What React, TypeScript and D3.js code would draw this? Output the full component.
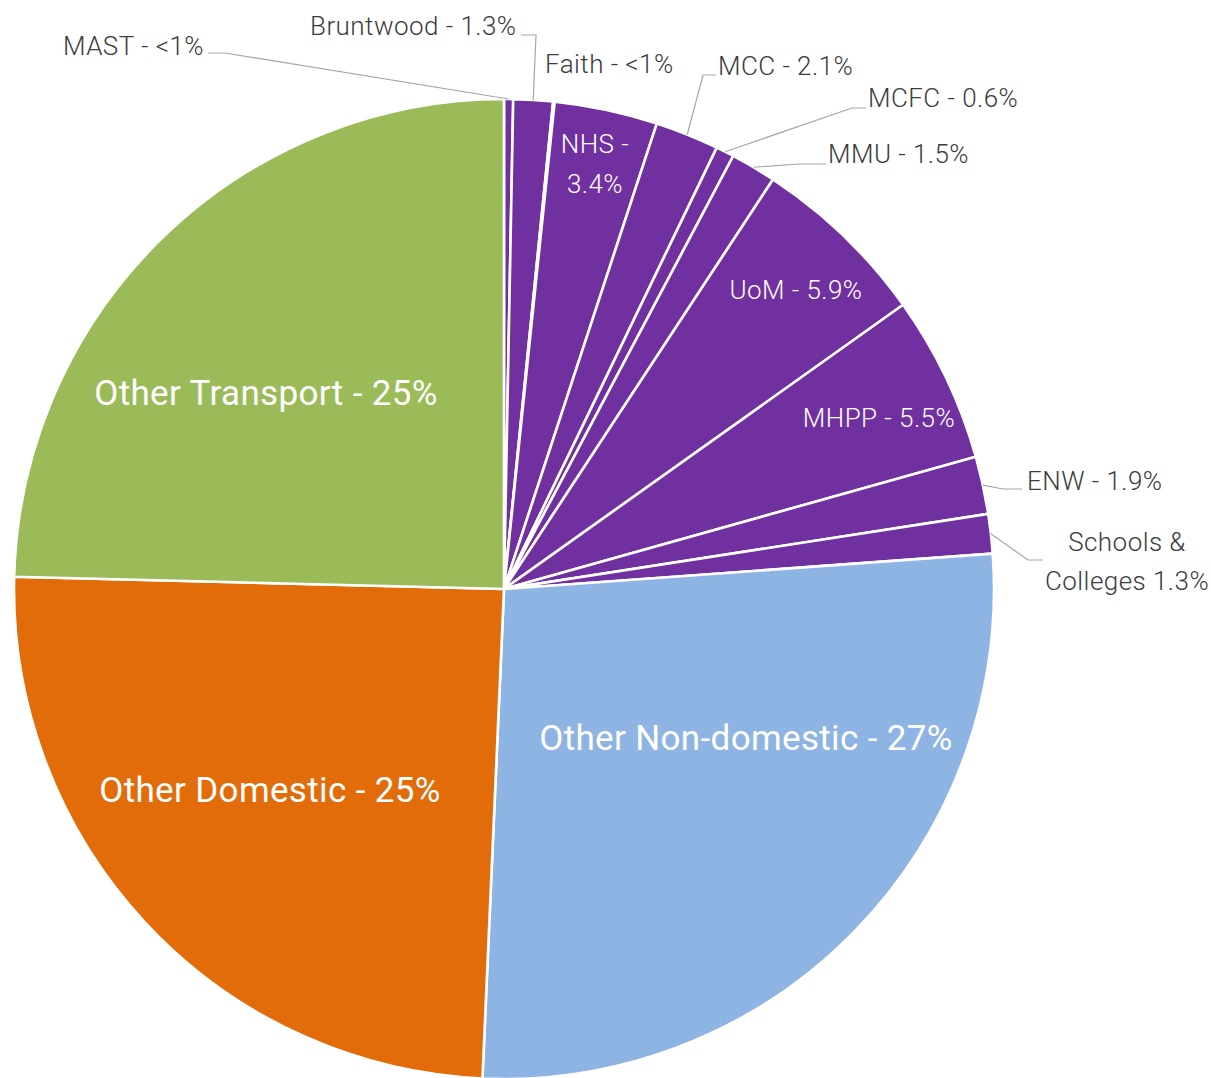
import React from "react";
import * as d3 from "d3";

const categories = [
  "MAST", "Bruntwood", "Faith", "NHS", "MCC", "MCFC", "MMU", "UoM", "MHPP", "ENW",
  "Schools & Colleges", "Other Non-domestic", "Other Domestic", "Other Transport",
];
const shares = [0.3, 1.3, 0.05, 3.4, 2.1, 0.6, 1.5, 5.9, 5.5, 1.9, 1.3, 26.85, 24.7, 24.6];
const labelLines = [
  ["MAST - <1%"], ["Bruntwood - 1.3%"], ["Faith - <1%"], ["NHS -", "3.4%"], ["MCC - 2.1%"],
  ["MCFC - 0.6%"], ["MMU - 1.5%"], ["UoM - 5.9%"], ["MHPP - 5.5%"], ["ENW - 1.9%"],
  ["Schools &", "Colleges 1.3%"], ["Other Non-domestic - 27%"], ["Other Domestic - 25%"],
  ["Other Transport - 25%"],
];
const groups = ["partner","partner","partner","partner","partner","partner","partner","partner","partner","partner","partner","nondomestic","domestic","transport"];

const W = 1211, H = 1078;
const CX = 504, CY = 589, R = 490;

const colour: Record<string, string> = {
  partner: "#7030A0",
  nondomestic: "#8EB4E3",
  domestic: "#E36C0A",
  transport: "#9BBB59",
};

// label layout (positions of text and leader elbows), not data
type Lay = {
  kind: "in" | "out" | "big";
  x: number; y: number; anchor: string; lh?: number;
  leader?: [number, number][];
};
const layout: Record<string, Lay> = {
  "MAST": { kind: "out", x: 63, y: 55, anchor: "start", leader: [[225, 53], [208, 53]] },
  "Bruntwood": { kind: "out", x: 310, y: 35, anchor: "start", leader: [[536, 35], [521, 35]] },
  "Faith": { kind: "out", x: 545, y: 73, anchor: "start" },
  "NHS": { kind: "in", x: 595, y: 153, anchor: "middle", lh: 40 },
  "MCC": { kind: "out", x: 718, y: 75, anchor: "start", leader: [[703, 75], [716, 75]] },
  "MCFC": { kind: "out", x: 868, y: 107, anchor: "start", leader: [[852, 108], [866, 108]] },
  "MMU": { kind: "out", x: 828, y: 163, anchor: "start", leader: [[800, 164], [826, 164]] },
  "UoM": { kind: "in", x: 796, y: 299, anchor: "middle" },
  "MHPP": { kind: "in", x: 879, y: 427, anchor: "middle" },
  "ENW": { kind: "out", x: 1027, y: 490, anchor: "start", leader: [[1003, 489], [1022, 489]] },
  "Schools & Colleges": { kind: "out", x: 1127, y: 551, anchor: "middle", lh: 39, leader: [[1028, 560], [1043, 560]] },
  "Other Non-domestic": { kind: "big", x: 746, y: 750, anchor: "middle" },
  "Other Domestic": { kind: "big", x: 270, y: 802, anchor: "middle" },
  "Other Transport": { kind: "big", x: 266, y: 405, anchor: "middle" },
};

type Row = { name: string; value: number; group: string; lines: string[] };
const rows: Row[] = categories.map((name, i) => ({ name, value: shares[i], group: groups[i], lines: labelLines[i] }));

export default function App() {
  const pie = d3.pie<Row>().sort(null).value((d) => d.value);
  const arcs = pie(rows);
  const arc = d3.arc<d3.PieArcDatum<Row>>().innerRadius(0).outerRadius(R);
  const font = "Roboto, 'Noto Sans', sans-serif";

  return (
    <svg width={W} height={H} style={{ position: "absolute", left: 0, top: 0, background: "#fff" }}>
      <g transform={`translate(${CX},${CY})`}>
        {arcs.map((a) => (
          <path key={a.data.name} d={arc(a) || ""} fill={colour[a.data.group]} stroke="#fff" strokeWidth={2.6} strokeLinejoin="round" />
        ))}
      </g>
      {arcs.map((a) => {
        const lay = layout[a.data.name];
        if (!lay || !lay.leader) return null;
        const mid = (a.startAngle + a.endAngle) / 2;
        const p0: [number, number] = [CX + R * Math.sin(mid), CY - R * Math.cos(mid)];
        const pts = [p0, ...lay.leader];
        return (
          <path key={"l" + a.data.name} d={d3.line()(pts) || ""} fill="none" stroke="#a6a6a6" strokeWidth={1.2} />
        );
      })}
      {arcs.map((a) => {
        const lay = layout[a.data.name];
        if (!lay) return null;
        const big = lay.kind === "big";
        const inside = lay.kind !== "out";
        return (
          <text
            key={"t" + a.data.name}
            x={lay.x}
            y={lay.y}
            textAnchor={lay.anchor}
            fontFamily={font}
            fontSize={big ? 35 : 26}
            letterSpacing={big ? 0.35 : 0.45}
            fontWeight={big ? 400 : 300}
            fill={inside ? "#ffffff" : "#3c3c3c"}
          >
            {a.data.lines.map((ln, i) => (
              <tspan key={i} x={lay.x} dy={i === 0 ? 0 : lay.lh}>{ln}</tspan>
            ))}
          </text>
        );
      })}
    </svg>
  );
}
